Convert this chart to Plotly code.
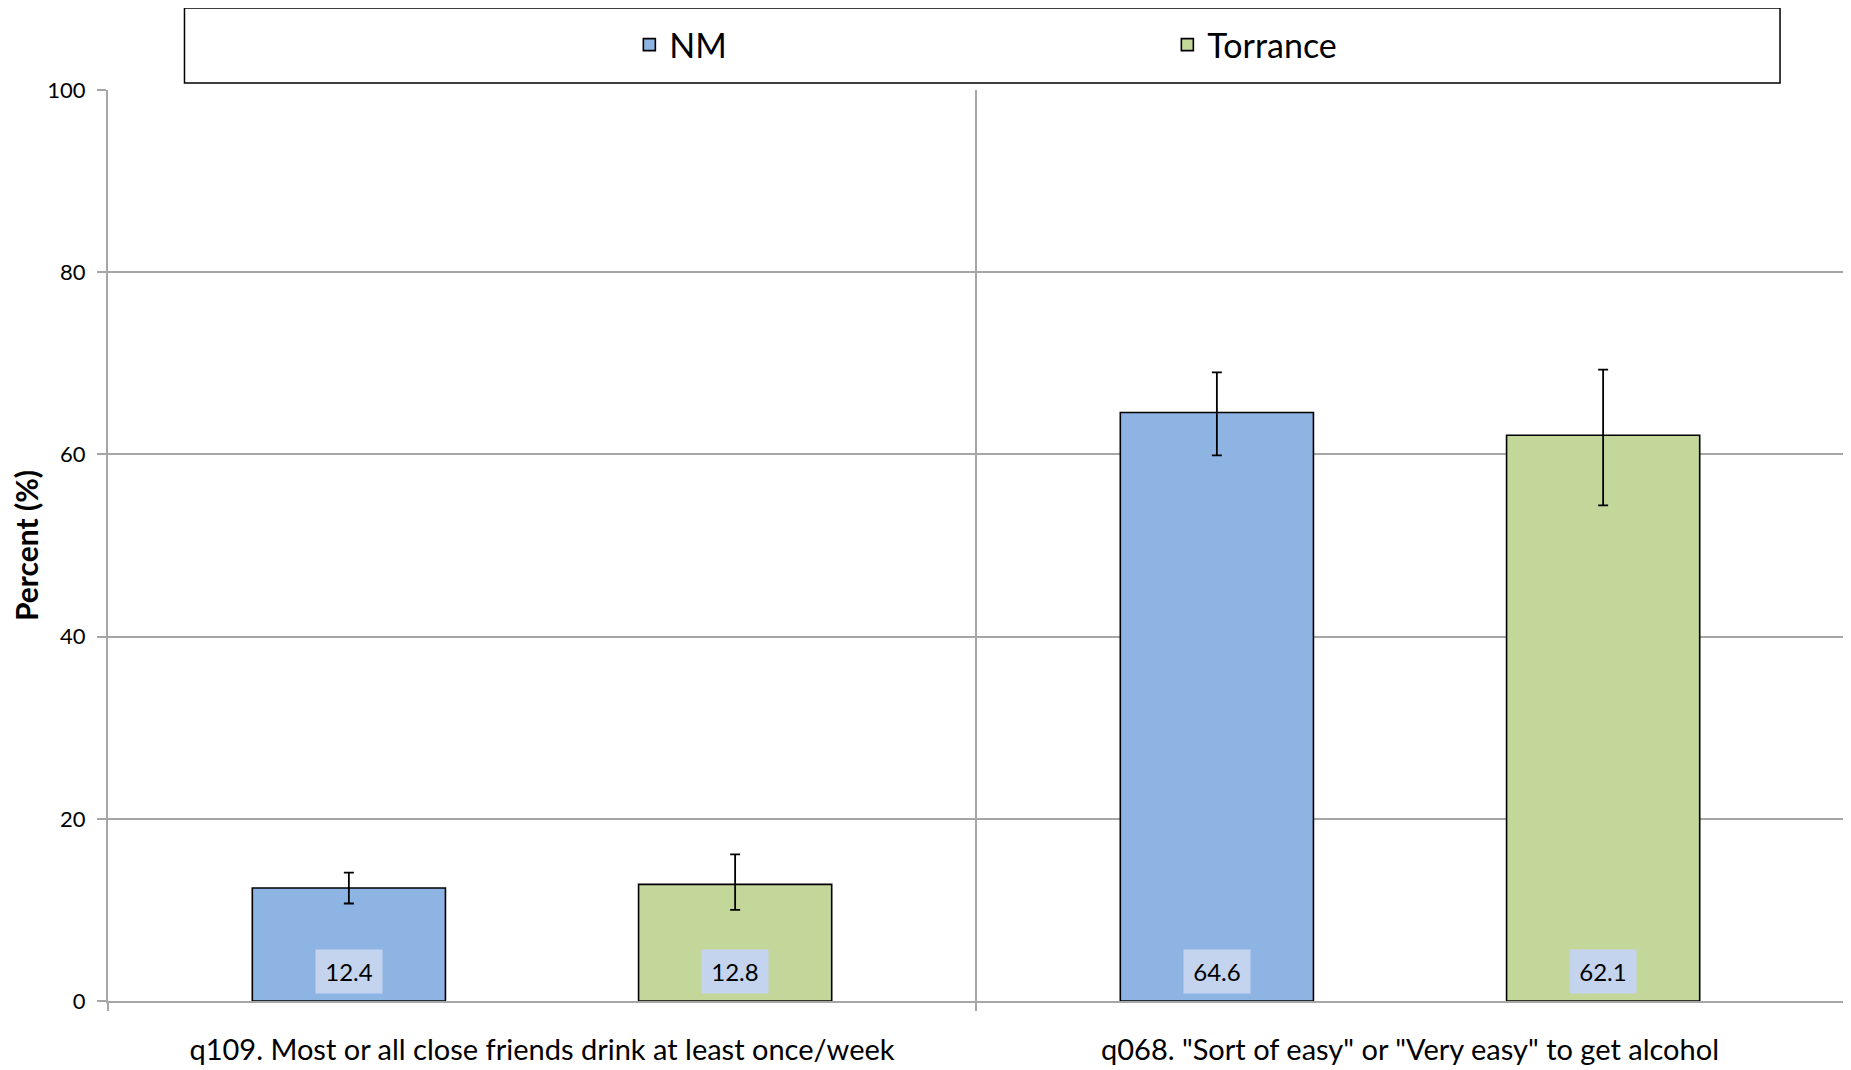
import plotly.graph_objects as go

categories = ["q109. Most or all close friends drink at least once/week",
              "q068. \"Sort of easy\" or \"Very easy\" to get alcohol"]
series_names = ["NM", "Torrance"]
nm_values = [12.4, 64.6]
torrance_values = [12.8, 62.1]
nm_ci_low = [10.7, 59.9]
nm_ci_high = [14.1, 69.0]
torrance_ci_low = [10.0, 54.4]
torrance_ci_high = [16.1, 69.3]
y_ticks = [0, 20, 40, 60, 80, 100]

colors = ["#8EB4E3", "#C4D79B"]
FONT = "Lato, 'Open Sans', sans-serif"
# page has an 8px body margin; work in figure coordinates
OFF = 8
W, H = 1851 - OFF, 1070 - OFF
ML, MR, MT, MB = 107.5 - OFF, 7, 90 - OFF, 69
BARGAP, BARGROUPGAP = 0.11, 0.5

series = [
    (series_names[0], nm_values, nm_ci_low, nm_ci_high, colors[0]),
    (series_names[1], torrance_values, torrance_ci_low, torrance_ci_high, colors[1]),
]

fig = go.Figure()
for name, vals, lo, hi, col in series:
    fig.add_trace(go.Bar(
        name=name, x=categories, y=vals,
        marker=dict(color=col, line=dict(color="black", width=1.6)),
        error_y=dict(type="data", symmetric=False,
                     array=[h - v for h, v in zip(hi, vals)],
                     arrayminus=[v - l for v, l in zip(vals, lo)],
                     color="black", thickness=1.8, width=5),
    ))

# data labels at the bottom of each bar
slot = (1 - BARGAP) / len(series)
for si, (name, vals, lo, hi, col) in enumerate(series):
    offset = -(1 - BARGAP) / 2 + slot * (si + 0.5)
    for ci, v in enumerate(vals):
        fig.add_annotation(
            x=ci + offset, y=0, xref="x", yref="y",
            text=f"{v:.1f}", showarrow=False,
            yanchor="bottom", yshift=7,
            width=64, height=41, bgcolor="#C4D4EF",
            font=dict(family=FONT, size=24, color="black"),
        )

pw = W - ML - MR
ph = H - MT - MB
fig.add_shape(type="rect", xref="paper", yref="paper",
              x0=(184 - OFF - ML) / pw, x1=(1780 - OFF - ML) / pw,
              y0=1 + (MT - (83 - OFF)) / ph, y1=1 + (MT - (8 - OFF)) / ph,
              line=dict(color="black", width=1.5), fillcolor="rgba(0,0,0,0)")

fig.update_layout(
    width=W, height=H,
    margin=dict(l=ML, r=MR, t=MT, b=MB, autoexpand=False),
    paper_bgcolor="white", plot_bgcolor="white",
    barmode="group", bargap=BARGAP, bargroupgap=BARGROUPGAP,
    font=dict(family=FONT, color="black"),
    showlegend=True,
    legend=dict(orientation="h", x=(629 - OFF - ML) / pw, xanchor="left",
                y=1 + (MT - (45 - OFF)) / ph, yanchor="middle",
                entrywidth=493, entrywidthmode="pixels",
                font=dict(family=FONT, size=34, color="black"),
                bgcolor="rgba(0,0,0,0)", borderwidth=0),
    xaxis=dict(type="category", tickson="boundaries", showgrid=True,
               gridcolor="#A6A6A6", gridwidth=1.5,
               showline=True, linecolor="#A6A6A6", linewidth=2,
               ticks="outside", ticklen=8, tickcolor="#A6A6A6", tickwidth=2,
               ticklabelstandoff=22,
               tickfont=dict(family=FONT, size=29, color="black"),
               range=[-0.5, 1.5], automargin=False),
    yaxis=dict(range=[0, 100], tickvals=y_ticks, showgrid=True,
               gridcolor="#A6A6A6", gridwidth=1.5,
               showline=True, linecolor="#A6A6A6", linewidth=2,
               ticks="outside", ticklen=9, tickcolor="#A6A6A6", tickwidth=2,
               ticklabelstandoff=7,
               tickfont=dict(family=FONT, size=22, color="black"),
               title=dict(text="<b>Percent (%)</b>", standoff=8,
                          font=dict(family=FONT, size=30, color="black")),
               zeroline=False, automargin=False),
)

fig.write_html("out.html")
